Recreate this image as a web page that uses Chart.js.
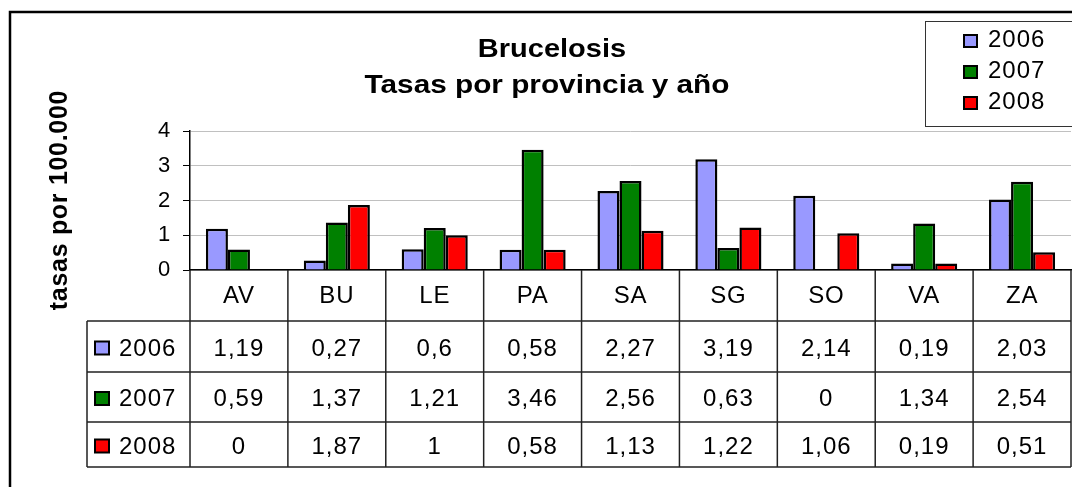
<!DOCTYPE html>
<html lang="es">
  <head>
    <meta charset="UTF-8" />
    <title>Brucelosis</title>
    <script src="https://cdn.jsdelivr.net/npm/chart.js@4.4.0/dist/chart.umd.min.js"></script>
    <style>
      body { margin: 0; background: #fff; }
    </style>
  </head>
  <body>
    <canvas id="grafica" width="1072" height="487"></canvas>
    <script>
      // datos
      var provincias = ["AV", "BU", "LE", "PA", "SA", "SG", "SO", "VA", "ZA"];
      var anios = ["2006", "2007", "2008"];
      var tasas2006 = [1.19, 0.27, 0.6, 0.58, 2.27, 3.19, 2.14, 0.19, 2.03];
      var tasas2007 = [0.59, 1.37, 1.21, 3.46, 2.56, 0.63, 0, 1.34, 2.54];
      var tasas2008 = [0, 1.87, 1, 0.58, 1.13, 1.22, 1.06, 0.19, 0.51];
      var colores = ["#9999ff", "#008000", "#ff0000"];
      var titulo = ["Brucelosis", "Tasas por provincia y año"];
      var tituloEje = "tasas por 100.000";

      var series = [tasas2006, tasas2007, tasas2008];
      var fuente = "'Liberation Sans', Arial, sans-serif";

      function formato(v) {
        return String(v).replace(".", ",");
      }

      // dibuja marco, titulo, leyenda y tabla de datos
      var extras = {
        id: "extras",
        beforeDraw: function (chart) {
          // el texto del original es algo mas ancho
          chart.ctx.letterSpacing = "0.8px";
        },
        afterDraw: function (chart) {
          var ctx = chart.ctx;
          var area = chart.chartArea;
          var x = chart.scales.x;
          ctx.save();

          // marco exterior
          ctx.strokeStyle = "#000";
          ctx.lineWidth = 2.5;
          ctx.strokeRect(10, 12, 1080, 500);

          // titulo (ensanchado como en el original)
          ctx.fillStyle = "#000";
          ctx.textAlign = "center";
          ctx.textBaseline = "alphabetic";
          ctx.save();
          ctx.letterSpacing = "0px";
          ctx.font = "bold 25px " + fuente;
          ctx.translate(552, 0);
          ctx.scale(1.16, 1);
          ctx.fillText(titulo[0], 0, 57);
          ctx.restore();
          ctx.save();
          ctx.letterSpacing = "0px";
          ctx.font = "bold 25px " + fuente;
          ctx.translate(547, 0);
          ctx.scale(1.19, 1);
          ctx.fillText(titulo[1], 0, 93);
          ctx.restore();

          // titulo del eje y
          ctx.save();
          ctx.translate(67, 200);
          ctx.rotate(-Math.PI / 2);
          ctx.font = "bold 25px " + fuente;
          ctx.letterSpacing = "0.7px";
          ctx.fillText(tituloEje, 0, 0);
          ctx.restore();

          // leyenda
          ctx.letterSpacing = "1px";
          ctx.lineWidth = 1;
          ctx.strokeStyle = "#333";
          ctx.strokeRect(925.5, 21.5, 200, 105);
          ctx.font = "24px " + fuente;
          ctx.textAlign = "left";
          for (var i = 0; i < anios.length; i++) {
            var yl = 47 + i * 31;
            ctx.fillStyle = colores[i];
            ctx.fillRect(964, yl - 12, 13, 12);
            ctx.lineWidth = 2;
            ctx.strokeStyle = "#000";
            ctx.strokeRect(964, yl - 12, 13, 12);
            ctx.fillStyle = "#000";
            ctx.fillText(anios[i], 988, yl);
          }

          // tabla de datos
          var filas = [area.bottom + 51, area.bottom + 102, area.bottom + 152, area.bottom + 197];
          var izq = 87;
          ctx.strokeStyle = "#222";
          ctx.lineWidth = 1.5;
          ctx.beginPath();
          for (var f = 0; f < filas.length; f++) {
            ctx.moveTo(izq, filas[f]);
            ctx.lineTo(area.right, filas[f]);
          }
          ctx.moveTo(izq, filas[0]);
          ctx.lineTo(izq, filas[3]);
          var ancho = (area.right - area.left) / provincias.length;
          for (var c = 0; c <= provincias.length; c++) {
            var xc = area.left + c * ancho;
            ctx.moveTo(xc, area.bottom);
            ctx.lineTo(xc, filas[3]);
          }
          ctx.stroke();

          ctx.font = "24px " + fuente;
          for (var s = 0; s < series.length; s++) {
            var top = filas[s];
            var bot = filas[s + 1];
            var yc = (top + bot) / 2 + 9;
            ctx.fillStyle = colores[s];
            ctx.fillRect(95, yc - 14, 14, 13);
            ctx.lineWidth = 2;
            ctx.strokeStyle = "#000";
            ctx.strokeRect(95, yc - 14, 14, 13);
            ctx.fillStyle = "#000";
            ctx.textAlign = "left";
            ctx.fillText(anios[s], 119, yc);
            ctx.textAlign = "center";
            for (var k = 0; k < provincias.length; k++) {
              ctx.fillText(formato(series[s][k]), x.getPixelForValue(k), yc);
            }
          }
          ctx.restore();
        },
      };

      var grafica = new Chart(document.getElementById("grafica"), {
        type: "bar",
        data: {
          labels: provincias,
          datasets: anios.map(function (a, i) {
            return {
              label: a,
              data: series[i],
              backgroundColor: colores[i],
              borderColor: "#000",
              borderWidth: 2.5,
              borderSkipped: "bottom",
              categoryPercentage: 0.675,
              barPercentage: 1.0,
            };
          }),
        },
        options: {
          responsive: false,
          animation: false,
          layout: { padding: { top: 131, right: 1, left: 0, bottom: 0 } },
          plugins: {
            legend: { display: false },
            title: { display: false },
            tooltip: { enabled: false },
          },
          scales: {
            x: {
              grid: { display: false },
              border: { color: "#000", width: 1.5 },
              ticks: {
                color: "#000",
                font: { family: fuente, size: 24 },
                padding: 4,
              },
              afterFit: function (scale) {
                scale.height = 217;
              },
            },
            y: {
              min: 0,
              max: 4,
              ticks: {
                stepSize: 1,
                color: "#000",
                font: { family: fuente, size: 22 },
                padding: 12,
              },
              grid: { color: "#c0c0c0", tickColor: "#000", tickLength: 7 },
              border: { color: "#000", width: 1.5 },
              afterFit: function (scale) {
                scale.width = 190;
              },
            },
          },
        },
        plugins: [extras],
      });
    </script>
  </body>
</html>
